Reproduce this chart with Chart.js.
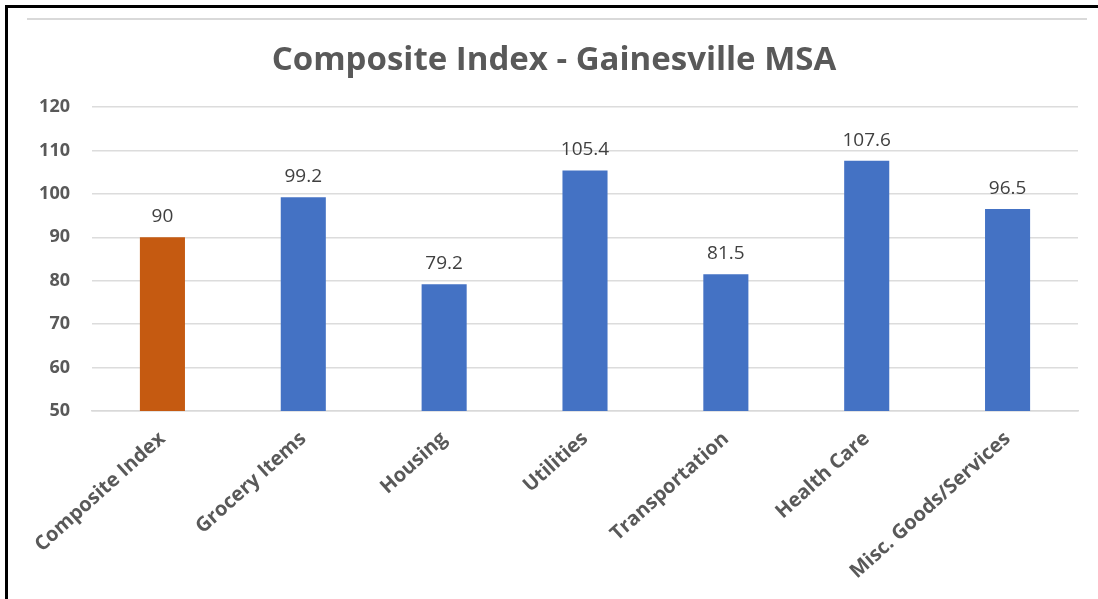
<!DOCTYPE html>
<html>
<head>
<meta charset="utf-8">
<script src="https://cdn.jsdelivr.net/npm/chart.js@4"></script>
<style>
  html, body { margin: 0; padding: 0; background: #fff; }
  #wrap { position: relative; width: 1098px; height: 599px; overflow: hidden; }
  #frame { position: absolute; left: 5px; top: 5px; right: -10px; bottom: -10px;
           border-left: 3px solid #000; border-top: 3px solid #000; }
  #topline { position: absolute; left: 27px; top: 18px; width: 1060px; height: 0;
             border-top: 2px solid #d9d9d9; }
  canvas { position: absolute; left: 0; top: 0; }
</style>
</head>
<body>
<div id="wrap">
  <div id="frame"></div>
  <div id="topline"></div>
  <canvas id="myChart" width="1098" height="599"></canvas>
</div>
<script>
const categories = ['Composite Index', 'Grocery Items', 'Housing', 'Utilities', 'Transportation', 'Health Care', 'Misc. Goods/Services'];
const values = [90, 99.2, 79.2, 105.4, 81.5, 107.6, 96.5];
const barColors = ['#C55A11', '#4472C4', '#4472C4', '#4472C4', '#4472C4', '#4472C4', '#4472C4'];

const fontFamily = '"Open Sans", "Noto Sans", sans-serif';

// values written above each bar
const valueLabels = {
    id: 'valueLabels',
    afterDatasetsDraw(chart) {
        const ctx = chart.ctx;
        const meta = chart.getDatasetMeta(0);
        ctx.save();
        ctx.font = '19px ' + fontFamily;
        ctx.fillStyle = '#404040';
        ctx.textAlign = 'center';
        ctx.textBaseline = 'alphabetic';
        meta.data.forEach((bar, i) => {
            ctx.fillText(String(values[i]), bar.x, bar.y - 15);
        });
        ctx.restore();
    }
};

document.addEventListener('DOMContentLoaded', function () {
    const ctx = document.getElementById('myChart');

    new Chart(ctx, {
        type: 'bar',
        data: {
            labels: categories,
            datasets: [{
                data: values,
                backgroundColor: barColors,
                barPercentage: 0.32,
                categoryPercentage: 1
            }]
        },
        options: {
            responsive: false,
            animation: false,
            layout: { padding: { top: 41, left: 30, right: 20, bottom: 0 } },
            plugins: {
                legend: { display: false },
                tooltip: { enabled: false },
                title: {
                    display: true,
                    text: 'Composite Index - Gainesville MSA',
                    color: '#595959',
                    font: { family: fontFamily, size: 33, weight: 'bold', lineHeight: 1.2 },
                    padding: { top: 0, bottom: 26.4 }
                }
            },
            scales: {
                y: {
                    min: 50,
                    max: 120,
                    ticks: {
                        stepSize: 10,
                        color: '#595959',
                        padding: 22,
                        font: { family: fontFamily, size: 18, weight: 'bold' }
                    },
                    grid: { color: '#dcdcdc', lineWidth: 1.5, drawTicks: false },
                    border: { display: false },
                    afterFit(scale) { scale.width = 62; }
                },
                x: {
                    ticks: {
                        color: '#595959',
                        maxRotation: 42,
                        minRotation: 42,
                        padding: 16,
                        font: { family: fontFamily, size: 20, weight: 'bold' }
                    },
                    grid: { display: false, drawTicks: false },
                    border: { display: true, color: '#d9d9d9', width: 1.5 },
                    afterFit(scale) { scale.height = 188; }
                }
            }
        },
        plugins: [valueLabels]
    });
});
</script>
</body>
</html>
